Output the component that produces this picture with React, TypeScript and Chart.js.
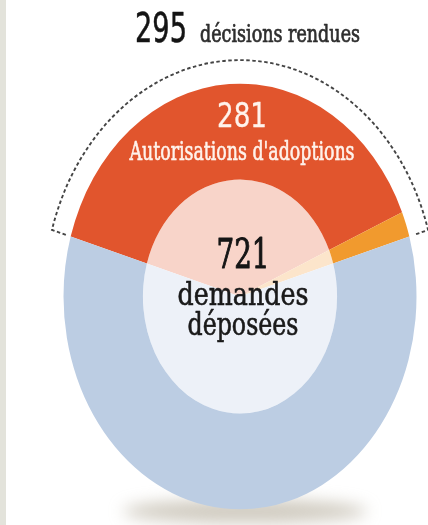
import React, { useEffect, useRef } from "react";
import { Chart, registerables } from "chart.js";

Chart.register(...registerables);

// ---- Data ----
const categories = ["Autorisations d'adoptions", "Autres décisions", "Demandes en attente"];
const values = [281, 14, 426];
const outerColors = ["#E1552D", "#F19A2E", "#BCCDE3"];
const innerColors = ["#F8D4C9", "#FCE5CB", "#EDF1F8"];
const totalLabel = "721";
const totalCaption = ["demandes", "déposées"];
const decisionsLabel = "295";
const decisionsCaption = "décisions rendues";
const adoptionsLabel = "281";
const adoptionsCaption = "Autorisations d'adoptions";

const K = 1.206; // vertical stretch of the oval

const SANS = "'Liberation Sans Narrow', 'DejaVu Sans Condensed', 'DejaVu Sans', sans-serif";
const SERIF = "'DejaVu Serif Condensed', 'DejaVu Serif', serif";

function fitText(
  ctx: CanvasRenderingContext2D,
  text: string,
  x: number,
  baseline: number,
  size: number,
  family: string,
  width: number,
  color: string,
  align: "left" | "center" = "center",
  weight = 0
) {
  ctx.save();
  ctx.font = `normal ${size}px ${family}`;
  const w = ctx.measureText(text).width;
  const sx = width / w;
  ctx.translate(x, baseline);
  ctx.scale(sx, 1);
  ctx.textAlign = align;
  ctx.textBaseline = "alphabetic";
  ctx.fillStyle = color;
  ctx.fillText(text, 0, 0);
  if (weight > 0) {
    ctx.strokeStyle = color;
    ctx.lineWidth = weight;
    ctx.lineJoin = "round";
    ctx.strokeText(text, 0, 0);
  }
  ctx.restore();
}

const ovalPlugin = {
  id: "oval",
  beforeDraw(chart: any) {
    const ctx = chart.ctx;
    ctx.save();
    ctx.fillStyle = "#ffffff";
    ctx.fillRect(0, 0, chart.width, chart.height);
    ctx.fillStyle = "#E3E3DB";
    ctx.fillRect(0, 0, 6, chart.height);
    ctx.restore();
  },
  beforeDatasetsDraw(chart: any) {
    const arc = chart.getDatasetMeta(0).data[0];
    const x = arc.x, y = arc.y, R = arc.outerRadius;
    const ctx = chart.ctx;
    // soft shadow under the oval
    ctx.save();
    ctx.filter = "blur(8px)";
    ctx.fillStyle = "rgba(170,160,140,0.55)";
    ctx.beginPath();
    ctx.ellipse(x + 5, y + R * K + 2, 122, 12, 0, 0, Math.PI * 2);
    ctx.fill();
    ctx.restore();
    ctx.save();
    ctx.translate(x, y);
    ctx.scale(1, K);
    ctx.translate(-x, -y);
  },
  afterDatasetsDraw(chart: any) {
    const ctx = chart.ctx;
    ctx.restore();
    const meta = chart.getDatasetMeta(0);
    const first = meta.data[0];
    const last = meta.data[1];
    const x = first.x, y = first.y, R = first.outerRadius;
    const a0 = first.startAngle, a1 = last.endAngle;
    const Rd = R + 19.5;
    const Rt = R + 5;
    ctx.save();
    ctx.setLineDash([3.5, 2.5]);
    ctx.lineWidth = 1.9;
    ctx.strokeStyle = "#444444";
    ctx.beginPath();
    ctx.moveTo(x + Rt * Math.cos(a0), y + Rt * K * Math.sin(a0));
    ctx.lineTo(x + Rd * Math.cos(a0), y + Rd * K * Math.sin(a0));
    ctx.ellipse(x, y, Rd, Rd * K, 0, a0, a1);
    ctx.lineTo(x + Rt * Math.cos(a1), y + Rt * K * Math.sin(a1));
    ctx.stroke();
    ctx.restore();

    // texts
    fitText(ctx, decisionsLabel, 135, 42, 40, SANS, 52, "#141414", "left", 0.5);
    fitText(ctx, decisionsCaption, 200, 42, 24, SERIF, 160, "#2e2e2e", "left", 0.7);
    fitText(ctx, adoptionsLabel, 242, 127, 34, SANS, 50, "#FFF3EC", "center", 0.3);
    fitText(ctx, adoptionsCaption, 242, 160, 26, SERIF, 225, "#FFF3EC", "center", 0.6);
    fitText(ctx, totalLabel, 243, 268, 41, SERIF, 53, "#151515", "center", 1.0);
    fitText(ctx, totalCaption[0], 243, 305, 32, SERIF, 131, "#1a1a1a", "center", 0.6);
    fitText(ctx, totalCaption[1], 243, 335, 32, SERIF, 111, "#1a1a1a", "center", 0.6);
  },
};

export default function App() {
  const ref = useRef<HTMLCanvasElement | null>(null);

  useEffect(() => {
    if (!ref.current) return;
    const total = values.reduce((a, b) => a + b, 0);
    const decided = values[0] + values[1];
    const chart = new Chart(ref.current, {
      type: "doughnut",
      data: {
        labels: categories,
        datasets: [
          {
            data: values,
            backgroundColor: outerColors,
            borderWidth: 0,
            weight: 45,
          },
          {
            data: values,
            backgroundColor: innerColors,
            borderWidth: 0,
            weight: 55,
          },
        ],
      },
      options: {
        responsive: false,
        animation: false,
        cutout: 0,
        rotation: -(decided / total) * 180,
        layout: { padding: { left: 63, right: 11, top: 120, bottom: 52 } },
        plugins: {
          legend: { display: false },
          tooltip: { enabled: false },
        },
      },
      plugins: [ovalPlugin],
    });
    return () => chart.destroy();
  }, []);

  return (
    <div style={{ position: "fixed", left: 0, top: 0, width: 428, height: 525, background: "#fff" }}>
      <canvas ref={ref} width={428} height={525} style={{ width: 428, height: 525, display: "block" }} />
    </div>
  );
}
